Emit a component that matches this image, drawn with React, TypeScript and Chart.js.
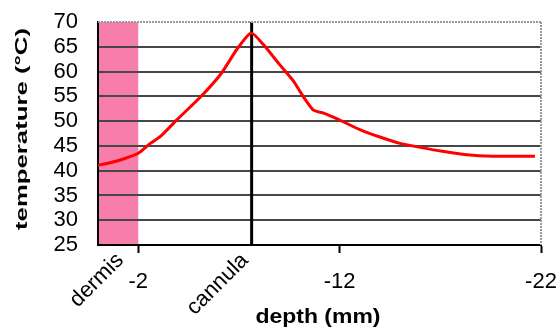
import React, { useEffect, useRef } from "react";
import { Chart, registerables } from "chart.js";

Chart.register(...registerables);

const depths = [0, -0.6, -1.3, -2.0, -2.6, -3.1, -3.9, -5.1, -6.1, -6.9, -7.6, -8.2, -9.0, -9.7, -10.2, -10.7, -11.2, -11.9, -13.0, -14.0, -15.0, -16.0, -17.1, -18.3, -19.6, -21.7];
const temps = [41.1, 41.6, 42.4, 43.5, 45.5, 46.9, 50.2, 54.9, 59.5, 64.5, 67.8, 65.5, 61.5, 58.1, 54.9, 52.2, 51.6, 50.4, 48.3, 46.8, 45.5, 44.7, 43.9, 43.2, 42.9, 42.9];
const xTickValues = [-2, -12, -22];
const cannulaDepth = -7.63;
const dermisRange = [0, -2];
const regionLabels = ["dermis", "cannula"];
const regionLabelDepths = [-1, -7.2];
const yTitle = "temperature (°C)";
const xTitle = "depth (mm)";

const FONT = "'Liberation Sans', Arial, sans-serif";

function zeroPad(s: any) {
  s.paddingTop = 0;
  s.paddingBottom = 0;
  s.paddingLeft = 0;
  s.paddingRight = 0;
}

export default function App() {
  const ref = useRef<HTMLCanvasElement | null>(null);
  useEffect(() => {
    document.body.style.margin = "0";
    const canvas = ref.current!;
    const overlay = {
      id: "overlay",
      beforeDraw(chart: any) {
        const { ctx, chartArea, scales } = chart;
        ctx.save();
        ctx.fillStyle = "#ffffff";
        ctx.fillRect(0, 0, chart.width, chart.height);
        const x0 = scales.x.getPixelForValue(dermisRange[0]);
        const x1 = scales.x.getPixelForValue(dermisRange[1]);
        ctx.fillStyle = "#F77DAB";
        ctx.fillRect(Math.min(x0, x1), chartArea.top, Math.abs(x1 - x0), chartArea.bottom - chartArea.top);
        ctx.restore();
      },
      afterDraw(chart: any) {
        const { ctx, chartArea, scales } = chart;
        ctx.save();
        ctx.strokeStyle = "#9a9a9a";
        ctx.lineWidth = 2;
        ctx.setLineDash([2, 1]);
        ctx.beginPath();
        ctx.moveTo(chartArea.left, chartArea.top);
        ctx.lineTo(chartArea.right, chartArea.top);
        ctx.moveTo(chartArea.right, chartArea.top);
        ctx.lineTo(chartArea.right, chartArea.bottom);
        ctx.stroke();
        ctx.setLineDash([]);
        ctx.fillStyle = "#000";
        ctx.font = `22px ${FONT}`;
        ctx.textAlign = "right";
        ctx.textBaseline = "middle";
        regionLabels.forEach((t, i) => {
          const px = scales.x.getPixelForValue(regionLabelDepths[i]);
          ctx.save();
          ctx.translate(px + 2, chartArea.bottom + 12);
          ctx.rotate(-Math.PI / 4);
          ctx.fillText(t, 0, 0);
          ctx.restore();
        });
        ctx.font = `bold 17px ${FONT}`;
        ctx.textAlign = "center";
        ctx.textBaseline = "middle";
        ctx.save();
        ctx.translate(22, 129);
        ctx.rotate(-Math.PI / 2);
        const wy = ctx.measureText(yTitle).width;
        ctx.scale(202 / wy, 1);
        ctx.fillText(yTitle, 0, 0);
        ctx.restore();
        ctx.font = `bold 20px ${FONT}`;
        ctx.save();
        ctx.translate(318, 317);
        const wx = ctx.measureText(xTitle).width;
        ctx.scale(125 / wx, 1);
        ctx.fillText(xTitle, 0, 0);
        ctx.restore();
        ctx.restore();
      },
    };
    const chart = new Chart(canvas, {
      type: "scatter",
      data: {
        datasets: [
          {
            data: [
              { x: cannulaDepth, y: 25 },
              { x: cannulaDepth, y: 70 },
            ],
            showLine: true,
            borderColor: "#000000",
            borderWidth: 3,
            pointRadius: 0,
            order: 2,
          },
          {
            data: depths.map((d, i) => ({ x: d, y: temps[i] })),
            showLine: true,
            borderColor: "#FF0000",
            borderWidth: 3,
            pointRadius: 0,
            tension: 0.2,
            order: 1,
          },
        ],
      },
      options: {
        responsive: false,
        animation: false,
        events: [],
        layout: { padding: { top: 22, right: 18, left: 0, bottom: 0 } },
        plugins: { legend: { display: false }, tooltip: { enabled: false } },
        scales: {
          x: {
            type: "linear",
            min: -22,
            max: 0,
            reverse: true,
            afterBuildTicks: (s: any) => {
              s.ticks = xTickValues.map((v) => ({ value: v }));
            },
            afterFit: (s: any) => {
              s.height = 88;
              zeroPad(s);
            },
            ticks: {
              autoSkip: false,
              maxRotation: 0,
              minRotation: 0,
              padding: 16,
              color: "#000",
              font: { family: FONT, size: 22 },
              callback: (v: any) => String(v),
            },
            grid: {
              drawOnChartArea: false,
              drawTicks: true,
              tickLength: 8,
              tickColor: "#000",
              tickWidth: 2,
              color: "#000",
            },
            border: { display: true, color: "#000", width: 2 },
          },
          y: {
            min: 25,
            max: 70,
            afterFit: (s: any) => {
              s.width = 98;
              zeroPad(s);
            },
            ticks: {
              stepSize: 5,
              autoSkip: false,
              padding: 20,
              color: "#000",
              font: { family: FONT, size: 22 },
            },
            grid: {
              drawTicks: false,
              lineWidth: 2,
              color: (c: any) => (c.tick && c.tick.value === 70 ? "rgba(0,0,0,0)" : "#474747"),
            },
            border: { display: true, color: "#000", width: 2 },
          },
        },
      },
      plugins: [overlay],
    } as any);
    return () => chart.destroy();
  }, []);
  return <canvas ref={ref} width={559} height={333} style={{ display: "block", width: 559, height: 333 }} />;
}
